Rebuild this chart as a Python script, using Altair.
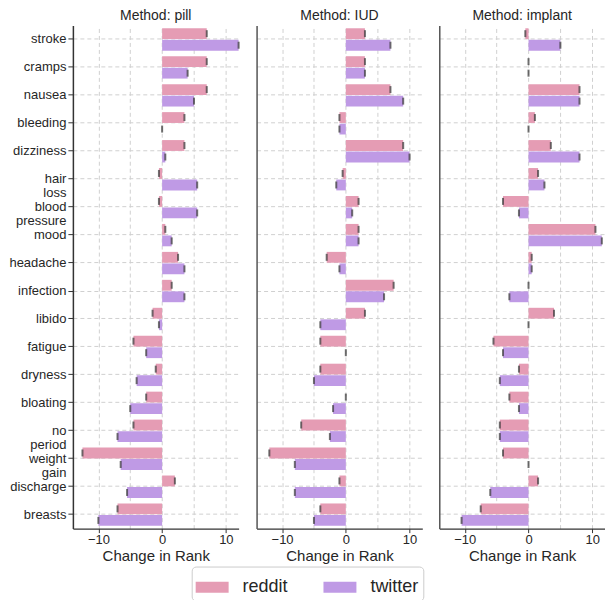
import altair as alt
import pandas as pd

symptoms = ["stroke", "cramps", "nausea", "bleeding", "dizziness", "hair loss",
            "blood pressure", "mood", "headache", "infection", "libido", "fatigue",
            "dryness", "bloating", "no period", "weight gain", "discharge", "breasts"]
methods = ["pill", "IUD", "implant"]
sources = ["reddit", "twitter"]

pill_reddit = [7, 7, 7, 3.5, 3.5, -0.5, -0.5, 0.5, 2.5, 1.5, -1.5, -4.5, -1, -2.5, -4.5, -12.5, 2, -7]
pill_twitter = [12, 4, 5, 0, 0.5, 5.5, 5.5, 1.5, 3.5, 3.5, -0.5, -2.5, -4, -5, -7, -6.5, -5.5, -10]
iud_reddit = [3, 3, 7, -1, 9, -0.5, 2, 2, -3, 7.5, 3, -4, -4, 0, -7, -12, -1, -4]
iud_twitter = [7, 3, 9, -1, 10, -1.5, 1, 2, -1, 6, -4, 0, -5, -2, -2.5, -8, -8, -5]
implant_reddit = [-0.5, 0, 8, 1, 3.5, 1.5, -4, 10.5, 0.5, 0, 4, -5.5, -1.5, -3, -4.5, -4, 1.5, -7.5]
implant_twitter = [5, 0, 8, 0, 8, 2.5, -1.5, 11.5, 0.5, -3, 0, -4, -4.5, -1.5, -4.5, 0, -6, -10.5]

series = {
    ("pill", "reddit"): pill_reddit, ("pill", "twitter"): pill_twitter,
    ("IUD", "reddit"): iud_reddit, ("IUD", "twitter"): iud_twitter,
    ("implant", "reddit"): implant_reddit, ("implant", "twitter"): implant_twitter,
}
rows = []
for (m, s), vals in series.items():
    for sym, v in zip(symptoms, vals):
        rows.append({"method": m, "source": s, "symptom": sym, "change": v})
df = pd.DataFrame(rows)

colors = ["#e59cb4", "#bf9ae5"]
FONT = "Liberation Sans"

def panel(m, first):
    base = alt.Chart(df[df.method == m])
    yaxis = alt.Axis(title=None, labelExpr="split(datum.label, ' ')", labelFontSize=13,
                     labelColor="#262626", grid=True, gridDash=[4, 3], gridColor="#d0d0d0",
                     bandPosition=0.5, domainColor="#333", domainWidth=1.5,
                     tickColor="#333", tickSize=5, labelPadding=2, labelLineHeight=14) if first else \
        alt.Axis(title=None, labels=False, ticks=False, grid=True, gridDash=[4, 3],
                 gridColor="#d0d0d0", bandPosition=0.5, domainColor="#555", domainWidth=1.5)
    y = alt.Y("symptom:N", sort=symptoms,
              scale=alt.Scale(domain=symptoms, paddingInner=0.2, paddingOuter=0.1),
              axis=yaxis)
    x = alt.X("change:Q", scale=alt.Scale(domain=[-14, 12], nice=False, zero=False),
              axis=alt.Axis(title="Change in Rank", values=[-10, -5, 0, 5, 10],
                            labelExpr="datum.value % 10 == 0 ? datum.label : ''",
                            titleFontSize=15, titleFontWeight="normal", titleColor="#262626",
                            titlePadding=2, labelPadding=1,
                            labelFontSize=13, labelColor="#262626", grid=True, gridDash=[4, 3],
                            gridColor="#d0d0d0", domainColor="#333", domainWidth=1.5,
                            tickColor="#333", tickSize=4,
                            tickOpacity={"condition": {"test": "datum.value % 10 == 0", "value": 1}, "value": 0}))
    yoff = alt.YOffset("source:N", sort=sources, scale=alt.Scale(paddingInner=0.06))
    color = alt.Color("source:N", sort=sources,
                      scale=alt.Scale(domain=sources, range=colors),
                      legend=alt.Legend(title=None, orient="none", direction="horizontal",
                                        legendX=119, legendY=542, labelFontSize=18,
                                        labelColor="#262626", symbolType="M-1,-0.33H1V0.33H-1Z",
                                        symbolSize=1089, symbolStrokeWidth=0, symbolOpacity=1,
                                        columnPadding=35, labelOffset=14,
                                        strokeColor="#cccccc", cornerRadius=4, padding=4))
    bars = base.mark_bar().encode(y=y, x=x, yOffset=yoff, color=color)
    caps = base.mark_tick(color="#333", thickness=2, size=7).encode(y=y, x="change:Q", yOffset=yoff)
    return alt.layer(bars, caps).properties(
        width=166, height=504,
        title=alt.TitleParams(f"Method: {m}", fontSize=14, fontWeight="normal", color="#262626",
                              font=FONT, offset=2))

chart = alt.hconcat(*[panel(m, i == 0) for i, m in enumerate(methods)], spacing=17,
                    padding={"left": 0, "right": 0, "top": 1, "bottom": 0}).configure(
    font=FONT).configure_view(stroke=None)

chart.save("out.html", embed_options={"renderer": "svg", "actions": False})
